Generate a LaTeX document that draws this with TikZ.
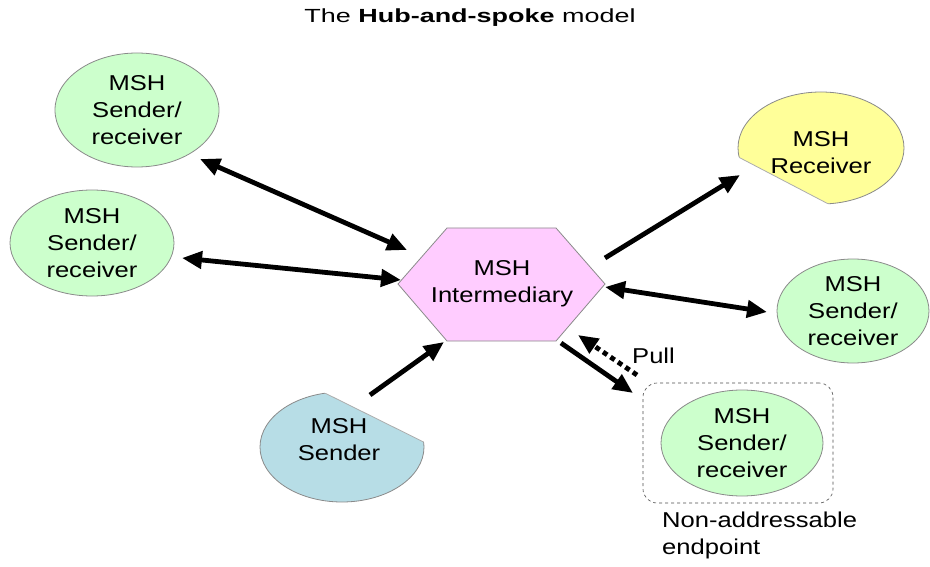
\documentclass[tikz,border=0pt]{standalone}
\usepackage{fontspec}
\setmainfont{Liberation Sans}
\newfontfamily\bodyf[FakeStretch=1.19]{Liberation Sans}
\newfontfamily\titlef[FakeStretch=1.42]{Liberation Sans}
\usetikzlibrary{arrows.meta,shapes.geometric}
\definecolor{msgreen}{HTML}{CCFFCC}
\definecolor{msyellow}{HTML}{FFFF99}
\definecolor{msblue}{HTML}{B7DDE6}
\definecolor{mspink}{HTML}{FFCCFF}
\definecolor{edgegray}{HTML}{8A8A8A}
\begin{document}
\begin{tikzpicture}[x=1pt,y=-1pt,
  txt/.style={font=\bodyf\fontsize{21.5}{27}\selectfont, align=center, inner sep=0pt},
  msh/.style={ellipse, draw=edgegray, line width=0.8pt, fill=msgreen, inner sep=0pt,
              font=\bodyf\fontsize{21.5}{27}\selectfont, align=center},
  tip/.tip={Triangle[length=20pt,width=17pt]},
  conn/.style={line width=4.8pt, -tip},
  dconn/.style={line width=4.8pt, tip-tip},
  pullconn/.style={line width=4.8pt, dash pattern=on 5pt off 4pt, -tip}
]
\useasboundingbox (0,0) rectangle (930,567);

% title
\node[font=\titlef\fontsize{19}{23}\selectfont, inner sep=0pt] (title) at (470,18) {The \textbf{Hub-and-spoke} model};

% green sender/receiver ellipses
\node[msh, minimum width=164pt, minimum height=114pt] (tl) at (137,110) {MSH\\Sender/\\receiver};
\node[msh, minimum width=164pt, minimum height=106pt] (ml) at (92,243) {MSH\\Sender/\\receiver};
\node[msh, minimum width=152pt, minimum height=104pt] (rr) at (853,311) {MSH\\Sender/\\receiver};
\node[msh, minimum width=162pt, minimum height=106pt] (ep) at (742,443) {MSH\\Sender/\\receiver};

% dashed box round the non-addressable endpoint
\node[draw=black!70, dashed, line width=0.6pt, rounded corners=14pt,
      minimum width=190pt, minimum height=120pt, inner sep=0pt] (box) at (738,443) {};
\node[txt, align=left, anchor=north west] (nalabel) at (662,512) {Non-addressable\\endpoint};

% hub hexagon
\draw[draw=edgegray, line width=0.8pt, fill=mspink]
  (398,284) -- (447,228) -- (556,228) -- (605,284) -- (556,341) -- (447,341) -- cycle;
\node[txt] (hub) at (502,284) {MSH\\Intermediary};

% yellow receiver (cut ellipse)
\begin{scope}
  \clip (700,137) -- (930,257) -- (930,60) -- (700,60) -- cycle;
  \fill[msyellow] (821,148) ellipse [x radius=83, y radius=56];
  \draw[edgegray, line width=0.8pt] (821,148) ellipse [x radius=83, y radius=56];
\end{scope}
\begin{scope}
  \clip (821,148) ellipse [x radius=83, y radius=56];
  \draw[edgegray!70, line width=0.8pt] (700,137) -- (930,257);
\end{scope}
\node[txt] (rcv) at (821,153) {MSH\\Receiver};

% blue sender (cut ellipse)
\begin{scope}
  \clip (230,346) -- (470,465) -- (470,520) -- (230,520) -- cycle;
  \fill[msblue] (342,447) ellipse [x radius=82, y radius=55];
  \draw[edgegray, line width=0.8pt] (342,447) ellipse [x radius=82, y radius=55];
\end{scope}
\begin{scope}
  \clip (342,447) ellipse [x radius=82, y radius=55];
  \draw[edgegray!70, line width=0.8pt] (230,346) -- (470,465);
\end{scope}
\node[txt] (snd) at (339,440) {MSH\\Sender};

% connector end points
\coordinate (a1s) at (200,159); \coordinate (a1e) at (407,250);
\coordinate (a2s) at (182,258); \coordinate (a2e) at (401,280);
\coordinate (a3s) at (605,258); \coordinate (a3e) at (740,175);
\coordinate (a4s) at (605,287); \coordinate (a4e) at (767,312);
\coordinate (a5s) at (370,395); \coordinate (a5e) at (444,342);
\coordinate (a6s) at (561,343); \coordinate (a6e) at (633,393);
\coordinate (a7s) at (637,375); \coordinate (a7e) at (578,335);

\draw[dconn] (a1s) -- (a1e);
\draw[dconn] (a2s) -- (a2e);
\draw[conn] (a3s) -- (a3e);
\draw[dconn] (a4s) -- (a4e);
\draw[conn] (a5s) -- (a5e);
\draw[conn] (a6s) -- (a6e);
\draw[pullconn] (a7s) -- (a7e);
\node[txt, anchor=west] (pull) at (632,356) {Pull};
\end{tikzpicture}
\end{document}
